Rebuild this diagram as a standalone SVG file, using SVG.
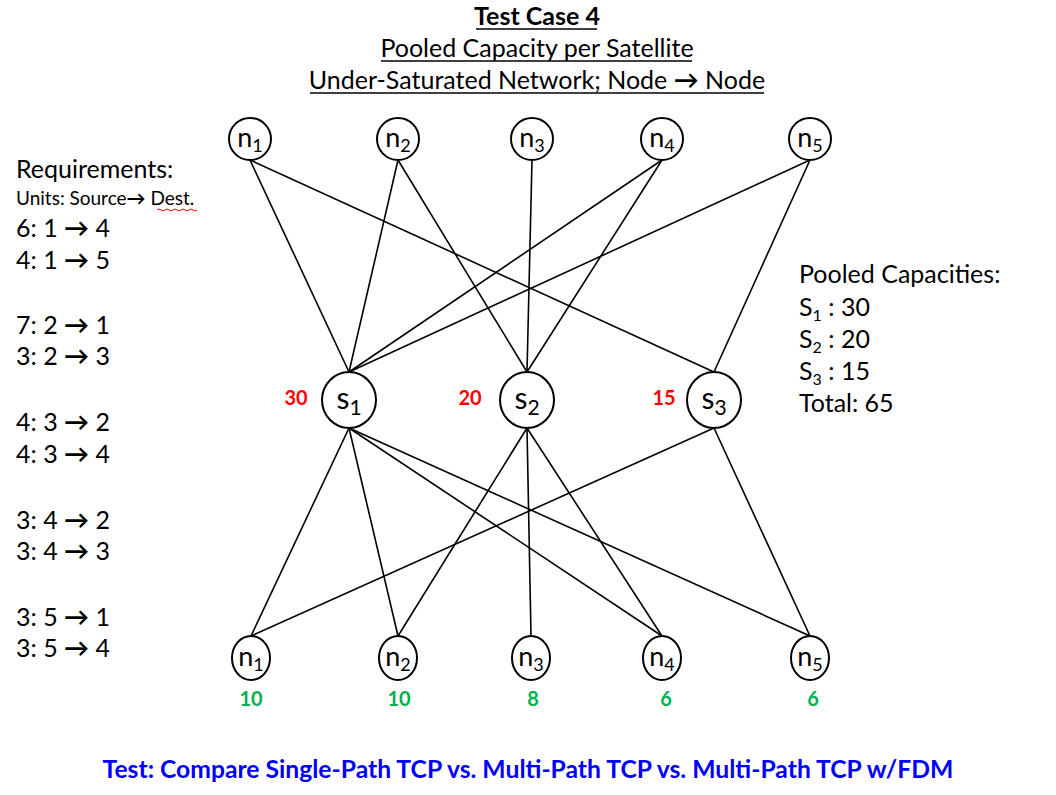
<svg xmlns="http://www.w3.org/2000/svg" width="1056" height="795" viewBox="0 0 1056 795">
<style>
text{font-family:Lato,"Liberation Sans",sans-serif;fill:#000}
.t{font-size:25px;text-anchor:middle}
.b{font-weight:bold}
.a{font-weight:bold}
.req{font-size:25px}
.sm{font-size:19px}
.node ellipse{fill:#fff;stroke:#000;stroke-width:2}
.nl{font-size:27px;text-anchor:middle}
.sl{font-size:30px;text-anchor:middle}
.red{fill:#FF0000;font-size:20px;font-weight:bold;text-anchor:middle}
.grn{fill:#00B050;font-size:20px;font-weight:bold;text-anchor:middle}
.blue{fill:#0000FF;font-size:24.7px;font-weight:bold;text-anchor:middle}
#connectors line{stroke:#000;stroke-width:1.6}
.ul{stroke:#000;stroke-width:1.5}
</style>
<rect width="1056" height="795" fill="#fff"/>
<g id="title">
<text class="t b" x="537" y="25">Test Case 4</text>
<line class="ul" x1="476" y1="29" x2="597" y2="29"/>
<text class="t" x="537" y="57">Pooled Capacity per Satellite</text>
<line class="ul" x1="381" y1="61" x2="692" y2="61"/>
<text class="t" x="537" y="89">Under-Saturated Network; Node <tspan class="a">→</tspan> Node</text>
<line class="ul" x1="310" y1="93" x2="764" y2="93"/>
</g>
<g id="connectors">
<line x1="250" y1="160" x2="349" y2="372"/>
<line x1="250" y1="160" x2="714" y2="372"/>
<line x1="398" y1="160" x2="349" y2="372"/>
<line x1="398" y1="160" x2="527" y2="372"/>
<line x1="532" y1="160" x2="527" y2="372"/>
<line x1="662" y1="160" x2="349" y2="372"/>
<line x1="662" y1="160" x2="527" y2="372"/>
<line x1="810" y1="160" x2="349" y2="372"/>
<line x1="810" y1="160" x2="714" y2="372"/>
<line x1="349" y1="428" x2="251" y2="636"/>
<line x1="349" y1="428" x2="398" y2="636"/>
<line x1="349" y1="428" x2="662" y2="636"/>
<line x1="349" y1="428" x2="810" y2="636"/>
<line x1="527" y1="428" x2="398" y2="636"/>
<line x1="527" y1="428" x2="531" y2="636"/>
<line x1="527" y1="428" x2="662" y2="636"/>
<line x1="714" y1="428" x2="251" y2="636"/>
<line x1="714" y1="428" x2="810" y2="636"/>
</g>
<g id="top-n1" class="node"><ellipse cx="250" cy="139" rx="21" ry="21"/><text class="nl" x="250" y="147">n<tspan font-size="18" dy="5">1</tspan></text></g>
<g id="top-n2" class="node"><ellipse cx="398" cy="139" rx="21" ry="21"/><text class="nl" x="398" y="147">n<tspan font-size="18" dy="5">2</tspan></text></g>
<g id="top-n3" class="node"><ellipse cx="532" cy="139" rx="21" ry="21"/><text class="nl" x="532" y="147">n<tspan font-size="18" dy="5">3</tspan></text></g>
<g id="top-n4" class="node"><ellipse cx="662" cy="139" rx="21" ry="21"/><text class="nl" x="662" y="147">n<tspan font-size="18" dy="5">4</tspan></text></g>
<g id="top-n5" class="node"><ellipse cx="810" cy="139" rx="21" ry="21"/><text class="nl" x="810" y="147">n<tspan font-size="18" dy="5">5</tspan></text></g>
<g id="s1" class="node"><ellipse cx="349" cy="400" rx="27" ry="28"/><text class="sl" x="349" y="409">s<tspan font-size="21" dy="6">1</tspan></text></g>
<g id="s2" class="node"><ellipse cx="527" cy="400" rx="27" ry="28"/><text class="sl" x="527" y="409">s<tspan font-size="21" dy="6">2</tspan></text></g>
<g id="s3" class="node"><ellipse cx="714" cy="400" rx="27" ry="28"/><text class="sl" x="714" y="409">s<tspan font-size="21" dy="6">3</tspan></text></g>
<g id="bot-n1" class="node"><ellipse cx="251" cy="658" rx="19" ry="22"/><text class="nl" x="251" y="666">n<tspan font-size="18" dy="5">1</tspan></text></g>
<g id="bot-n2" class="node"><ellipse cx="398" cy="658" rx="19" ry="22"/><text class="nl" x="398" y="666">n<tspan font-size="18" dy="5">2</tspan></text></g>
<g id="bot-n3" class="node"><ellipse cx="531" cy="658" rx="19" ry="22"/><text class="nl" x="531" y="666">n<tspan font-size="18" dy="5">3</tspan></text></g>
<g id="bot-n4" class="node"><ellipse cx="662" cy="658" rx="19" ry="22"/><text class="nl" x="662" y="666">n<tspan font-size="18" dy="5">4</tspan></text></g>
<g id="bot-n5" class="node"><ellipse cx="810" cy="658" rx="19" ry="22"/><text class="nl" x="810" y="666">n<tspan font-size="18" dy="5">5</tspan></text></g>
<g id="sat-caps">
<text class="red" x="296" y="405">30</text>
<text class="red" x="470" y="405">20</text>
<text class="red" x="664" y="405">15</text>
</g>
<g id="node-caps">
<text class="grn" x="251" y="706">10</text>
<text class="grn" x="399" y="706">10</text>
<text class="grn" x="533" y="706">8</text>
<text class="grn" x="666" y="706">6</text>
<text class="grn" x="813" y="706">6</text>
</g>
<g id="requirements">
<text class="req" x="16" y="178">Requirements:</text>
<text class="sm" x="16" y="205">Units: Source<tspan class="a">→</tspan> Dest.</text>
<path d="M157 210 q2 -2 4 0 t4 0 t4 0 t4 0 t4 0 t4 0 t4 0 t4 0 t4 0 t4 0" fill="none" stroke="#E00000" stroke-width="1"/>
<text class="req" x="16" y="237">6: 1 <tspan class="a">→</tspan> 4</text>
<text class="req" x="16" y="269">4: 1 <tspan class="a">→</tspan> 5</text>
<text class="req" x="16" y="334">7: 2 <tspan class="a">→</tspan> 1</text>
<text class="req" x="16" y="365">3: 2 <tspan class="a">→</tspan> 3</text>
<text class="req" x="16" y="431">4: 3 <tspan class="a">→</tspan> 2</text>
<text class="req" x="16" y="463">4: 3 <tspan class="a">→</tspan> 4</text>
<text class="req" x="16" y="529">3: 4 <tspan class="a">→</tspan> 2</text>
<text class="req" x="16" y="560">3: 4 <tspan class="a">→</tspan> 3</text>
<text class="req" x="16" y="626">3: 5 <tspan class="a">→</tspan> 1</text>
<text class="req" x="16" y="657">3: 5 <tspan class="a">→</tspan> 4</text>
</g>
<g id="pooled">
<text class="req" x="799" y="283">Pooled Capacities:</text>
<text class="req" x="799" y="316">S<tspan font-size="16" dy="5">1</tspan><tspan dy="-5"> : 30</tspan></text>
<text class="req" x="799" y="348">S<tspan font-size="16" dy="5">2</tspan><tspan dy="-5"> : 20</tspan></text>
<text class="req" x="799" y="380">S<tspan font-size="16" dy="5">3</tspan><tspan dy="-5"> : 15</tspan></text>
<text class="req" x="799" y="412">Total: 65</text>
</g>
<text class="blue" x="528" y="778">Test: Compare Single-Path TCP vs. Multi-Path TCP vs. Multi-Path TCP w/FDM</text>
</svg>
